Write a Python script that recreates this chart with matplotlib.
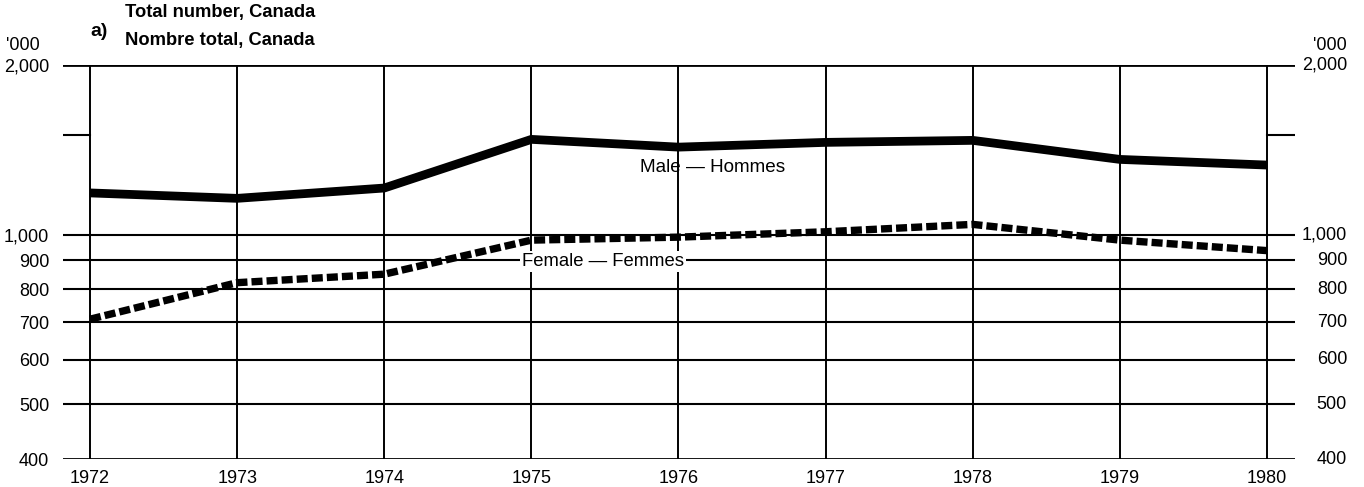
import matplotlib
matplotlib.use("Agg")
import matplotlib.pyplot as plt
import matplotlib.transforms as mtransforms

plt.rcParams['font.family'] = ['Liberation Sans', 'DejaVu Sans']

years = [1972, 1973, 1974, 1975, 1976, 1977, 1978, 1979, 1980]
male = [1186, 1160, 1210, 1476, 1430, 1458, 1470, 1360, 1329]
female = [708, 822, 851, 978, 990, 1012, 1043, 978, 937]
grid_values = [400, 500, 600, 700, 800, 900, 1000, 2000]
grid_labels = ['400', '500', '600', '700', '800', '900', '1,000', '2,000']
minor_tick_value = 1500
male_label = 'Male — Hommes'
female_label = 'Female — Femmes'
male_label_pos = (1976.23, 1318)
female_label_pos = (1975.49, 896)

W, H = 1364, 487
fig = plt.figure(figsize=(W / 100, H / 100), dpi=100)
left, right, top, bottom = 63, 1295, 65, 459
ax = fig.add_axes([left / W, 1 - bottom / H, (right - left) / W, (bottom - top) / H])
ax.set_yscale('log')
ax.set_ylim(400, 2000)
ax.set_xlim(1972 - 27 / 147.1, 1980 + 28 / 147.1)
for s in ax.spines.values():
    s.set_visible(False)

FS = 13

# horizontal gridlines
for v in grid_values:
    lw = 2.0 if v in (400, 2000) else 1.5
    ax.axhline(v, color='black', lw=lw, zorder=1)
# vertical gridlines
for yv in years:
    ax.plot([yv, yv], [400, 2000], color='black', lw=1.4, zorder=1, solid_capstyle='butt')
# short ticks for 1500 at edges
x0, x1 = ax.get_xlim()
ax.plot([x0, years[0]], [minor_tick_value] * 2, color='black', lw=1.5, zorder=1)
ax.plot([years[-1], x1], [minor_tick_value] * 2, color='black', lw=1.5, zorder=1)

ax.plot(years, male, color='black', lw=6.3, solid_capstyle='butt', solid_joinstyle='round', zorder=3)
ax.plot(years, female, color='black', lw=5.3, linestyle=(0, (1.5, 0.55)),
        dash_capstyle='butt', zorder=3)

ax.text(*male_label_pos, male_label, ha='center', va='center', fontsize=13.6, zorder=4)
ax.text(*female_label_pos, female_label, ha='center', va='center', fontsize=13.3, zorder=4,
        bbox=dict(facecolor='white', edgecolor='none', pad=1.5))

ax.set_yticks(grid_values)
ax.set_yticklabels(grid_labels)
ax.yaxis.set_minor_locator(matplotlib.ticker.NullLocator())
ax.set_xticks(years)
ax.set_xticklabels([str(y) for y in years])
ax.tick_params(axis='both', length=0, labelsize=FS)
ax.tick_params(axis='y', pad=10)
ax.tick_params(axis='x', pad=8)

# right-hand labels
trans = mtransforms.blended_transform_factory(ax.transAxes, ax.transData)
for v, lab in zip(grid_values, grid_labels):
    ax.text(1 + 52 / (right - left), v, lab, transform=trans, ha='right', va='center',
            fontsize=FS, clip_on=False)

fig.text(40 / W, 1 - 46 / H, "'000", ha='right', va='center', fontsize=FS)
fig.text(1347 / W, 1 - 46 / H, "'000", ha='right', va='center', fontsize=FS)

fig.text(90 / W, 1 - 31 / H, 'a)', ha='left', va='center', fontsize=14, fontweight='bold')
fig.text(125 / W, 1 - 13 / H, 'Total number, Canada', ha='left', va='center', fontsize=13.2, fontweight='bold')
fig.text(125 / W, 1 - 40 / H, 'Nombre total, Canada', ha='left', va='center', fontsize=13.2, fontweight='bold')

fig.savefig('out.png', dpi=100, facecolor='white')
